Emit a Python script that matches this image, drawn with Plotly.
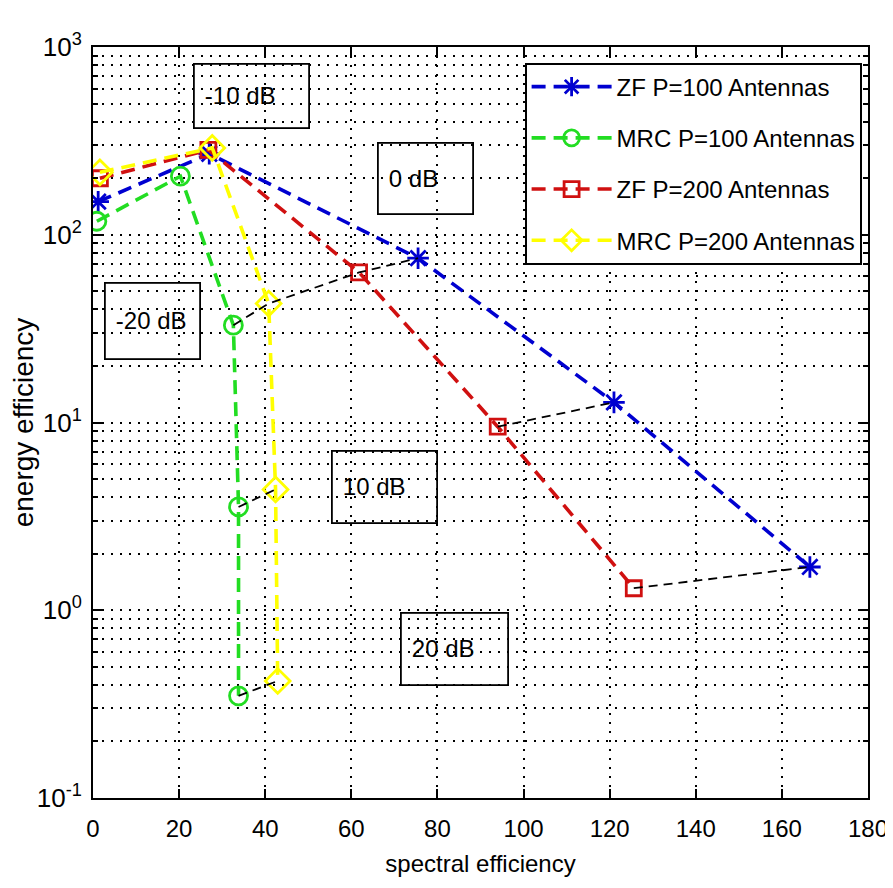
import plotly.graph_objects as go

# ---------------- data ----------------
snr_labels = ["-20 dB", "-10 dB", "0 dB", "10 dB", "20 dB"]

zf100_se = [1.2, 27.0, 75.5, 121.0, 166.5]
zf100_ee = [150, 270, 75, 12.8, 1.7]

mrc100_se = [0.9, 20.3, 32.6, 33.8, 33.8]
mrc100_ee = [118, 205, 33, 3.55, 0.35]

zf200_se = [1.6, 26.8, 61.8, 94.0, 125.6]
zf200_ee = [200, 283, 63, 9.5, 1.31]

mrc200_se = [1.6, 27.7, 40.8, 42.4, 42.9]
mrc200_ee = [215, 290, 43, 4.4, 0.42]

series_names = ["ZF P=100 Antennas", "MRC P=100 Antennas",
                "ZF P=200 Antennas", "MRC P=200 Antennas"]

# black dashed connectors of equal SNR: (snr index, chain of series)
connector_chains = [
    (2, ["mrc100", "mrc200", "zf200", "zf100"]),
    (3, ["mrc100", "mrc200"]),
    (3, ["zf200", "zf100"]),
    (4, ["mrc100", "mrc200"]),
    (4, ["zf200", "zf100"]),
]

x_ticks = [0, 20, 40, 60, 80, 100, 120, 140, 160, 180]
y_tick_exps = [-1, 0, 1, 2, 3]

# ---------------- figure ----------------
data = {
    "zf100": (zf100_se, zf100_ee),
    "mrc100": (mrc100_se, mrc100_ee),
    "zf200": (zf200_se, zf200_ee),
    "mrc200": (mrc200_se, mrc200_ee),
}
styles = {
    "zf100": dict(color="#0000d0", symbol="asterisk-open", size=18),
    "mrc100": dict(color="#22dd22", symbol="circle-open", size=18),
    "zf200": dict(color="#d01010", symbol="square-open", size=15),
    "mrc200": dict(color="#ffff00", symbol="diamond-open", size=19),
}
keys = ["zf100", "mrc100", "zf200", "mrc200"]

FONT = "Liberation Sans, Arial, sans-serif"

fig = go.Figure()

cx, cy = [], []
for idx, chain in connector_chains:
    for k in chain:
        cx.append(data[k][0][idx])
        cy.append(data[k][1][idx])
    cx.append(None)
    cy.append(None)

for k, name in zip(keys, series_names):
    xs, ys = data[k]
    st = styles[k]
    fig.add_trace(go.Scatter(
        x=xs, y=ys, name=name, mode="lines+markers",
        legendgroup=k,
        line=dict(color=st["color"], width=3.6, dash="14px,8px"),
        marker=dict(symbol=st["symbol"], size=st["size"], color=st["color"],
                    line=dict(color=st["color"], width=2.8)),
    ))

fig.add_trace(go.Scatter(
    x=cx, y=cy, mode="lines", showlegend=False, hoverinfo="skip",
    line=dict(color="black", width=1.8, dash="9px,6px"),
))

# text boxes (top-left position in data coordinates, size in px)
boxes = [
    ("-10 dB", 23.3, 2.915, 117, 64),
    ("0 dB", 65.9, 2.494, 97, 71),
    ("-20 dB", 2.56, 1.748, 97, 76),
    ("10 dB", 55.2, 0.854, 107, 72),
    ("20 dB", 71.3, -0.009, 109, 72),
]
for txt, bx, by, bw, bh in boxes:
    fig.add_annotation(
        x=bx, y=by, xref="x", yref="y", text=txt, showarrow=False,
        xanchor="left", yanchor="top", align="left", valign="middle",
        width=bw - 24, height=bh - 22, borderpad=10,
        bordercolor="black", borderwidth=1.8, bgcolor="rgba(0,0,0,0)",
        font=dict(family=FONT, size=24, color="black"),
    )

minor_vals = [m * 10.0 ** e for e in range(-1, 3) for m in range(2, 10)]

# the page body adds an 8px offset, so the figure is 8px smaller here
fig.update_layout(
    width=885, height=880,
    margin=dict(l=85, r=25, t=39, b=90),
    paper_bgcolor="white", plot_bgcolor="white",
    font=dict(family=FONT, color="black"),
    showlegend=True,
    legend=dict(
        x=0.992, y=0.979, xanchor="right", yanchor="top",
        bgcolor="white", bordercolor="black", borderwidth=1.8,
        font=dict(family=FONT, size=24, color="black"),
        itemwidth=80, traceorder="grouped", tracegroupgap=17,
    ),
    xaxis=dict(
        range=[0, 180], tickvals=x_ticks, ticktext=[str(v) for v in x_ticks],
        automargin=False,
        ticks="inside", ticklen=9, tickwidth=1.8, tickcolor="black",
        showline=True, linecolor="black", linewidth=1.8, mirror="ticks",
        showgrid=True, gridcolor="black", gridwidth=1.5, griddash="2px,7px",
        zeroline=False,
        tickfont=dict(family=FONT, size=24, color="black"),
        ticklabelstandoff=8,
        title=dict(text="spectral efficiency", standoff=14,
                   font=dict(family=FONT, size=24, color="black")),
    ),
    yaxis=dict(
        type="log", range=[-1, 3],
        automargin=False,
        tickvals=[10.0 ** e for e in y_tick_exps],
        ticktext=["10<sup>%d</sup>" % e for e in y_tick_exps],
        ticks="inside", ticklen=9, tickwidth=1.8, tickcolor="black",
        showline=True, linecolor="black", linewidth=1.8, mirror="ticks",
        showgrid=True, gridcolor="black", gridwidth=1.5, griddash="2px,7px",
        zeroline=False,
        minor=dict(tickvals=minor_vals, ticks="inside", ticklen=5,
                   tickwidth=1.5, tickcolor="black", showgrid=True,
                   gridcolor="black", gridwidth=1.5, griddash="2px,7px"),
        tickfont=dict(family=FONT, size=26, color="black"),
        ticklabelstandoff=4,
        title=dict(text="energy efficiency", standoff=10,
                   font=dict(family=FONT, size=28, color="black")),
    ),
)

fig.write_html("out.html")
